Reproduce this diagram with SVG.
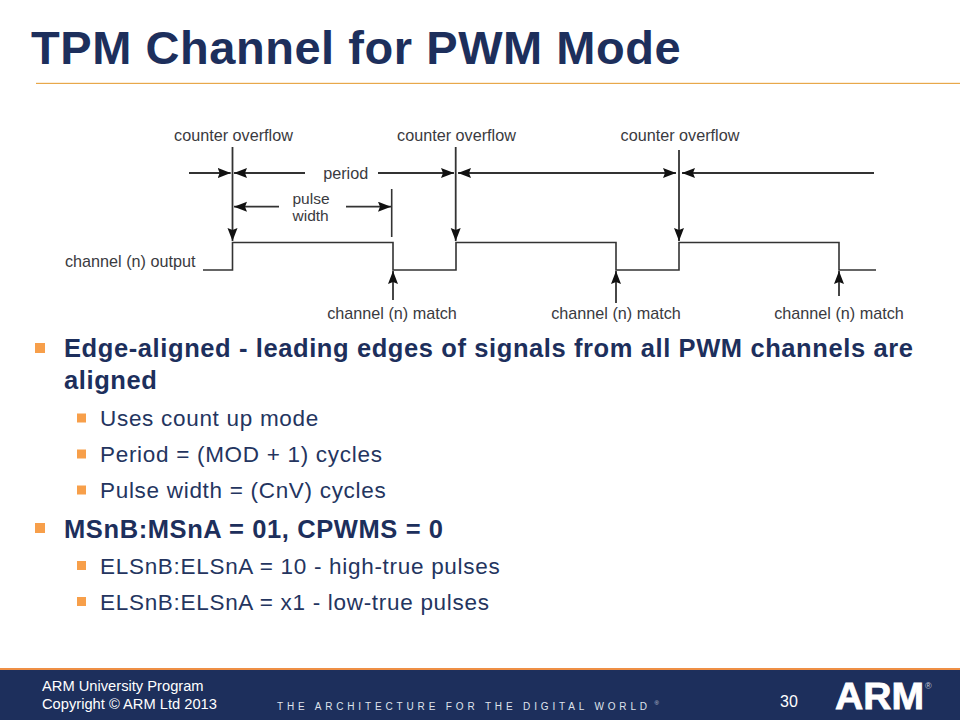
<svg xmlns="http://www.w3.org/2000/svg" width="960" height="720" viewBox="0 0 960 720">
<style>
text{font-family:"Liberation Sans",Arial,sans-serif}
.t{font-size:16.2px;fill:#3a3a40}
.m{text-anchor:middle}
.w{fill:none;stroke:#333;stroke-width:1.6}
.a{fill:none;stroke:#333;stroke-width:1.8;marker-end:url(#h)}
.b1{font-size:25.500px;font-weight:bold;fill:#1d2f5c;letter-spacing:.6px}
.b2{font-size:22.500px;fill:#24355f;letter-spacing:.7px}
.s1{fill:#f79f4a}
.f{fill:#fff;font-size:14.700px}
</style>
<defs><marker id="h" markerUnits="userSpaceOnUse" markerWidth="14" markerHeight="12" refX="13" refY="5" orient="auto"><path d="M0 0 L13 5 L0 10 L2 5Z" fill="#111"/></marker></defs>
<rect width="960" height="720" fill="#fff"/>
<text x="31" y="63.500" font-size="47" font-weight="bold" fill="#1d2f5c" letter-spacing=".55">TPM Channel for PWM Mode</text>
<rect x="36" y="82.800" width="924" height="1.200" fill="#e8a84a"/>
<g id="connectors">
<path class="w" d="M203 270H232.500V242.500H393V270H456V242.500H616V270H679V242.500H839V270H876"/>
<path class="a" d="M232.500 147V241"/>
<path class="a" d="M455.700 147V241"/>
<path class="a" d="M679 150V241"/>
<path class="a" d="M189 173H230.700"/>
<path class="a" d="M305 173H234"/>
<path class="a" d="M378 173H454"/>
<path class="a" d="M600 173H458"/>
<path class="a" d="M600 173H676"/>
<path class="a" d="M874 173H682"/>
<path class="a" d="M279 206.700H234"/>
<path class="a" d="M346 206.700H391"/>
<path class="w" d="M391.700 189V237"/>
<path class="a" d="M393 300V271"/>
<path class="a" d="M616 303V271"/>
<path class="a" d="M839 296V271"/>
</g>
<g id="counter-overflow-1"><text class="t m" x="233.500" y="140.500">counter overflow</text></g>
<g id="counter-overflow-2"><text class="t m" x="456.500" y="140.500">counter overflow</text></g>
<g id="counter-overflow-3"><text class="t m" x="680" y="140.500">counter overflow</text></g>
<g id="period"><text class="t m" x="345.700" y="179">period</text></g>
<g id="pulse-width"><text x="292.500" y="204" font-size="15.500" fill="#3a3a40">pulse</text><text x="292.500" y="220.500" font-size="15.500" fill="#3a3a40">width</text></g>
<g id="channel-output"><text class="t" x="65" y="267">channel (n) output</text></g>
<g id="match-1"><text class="t m" x="392" y="319">channel (n) match</text></g>
<g id="match-2"><text class="t m" x="616" y="319">channel (n) match</text></g>
<g id="match-3"><text class="t m" x="839" y="319">channel (n) match</text></g>
<g id="bullets">
<rect class="s1" x="35" y="343" width="10" height="10"/>
<text class="b1" x="64" y="356.500">Edge-aligned - leading edges of signals from all PWM channels are</text>
<text class="b1" x="64" y="388.500">aligned</text>
<rect class="s1" x="77" y="413.500" width="9" height="9"/>
<text class="b2" x="100" y="425.500">Uses count up mode</text>
<rect class="s1" x="77" y="449.500" width="9" height="9"/>
<text class="b2" x="100" y="461.500">Period = (MOD + 1) cycles</text>
<rect class="s1" x="77" y="485.500" width="9" height="9"/>
<text class="b2" x="100" y="497.500">Pulse width = (CnV) cycles</text>
<rect class="s1" x="35" y="523" width="10" height="10"/>
<text class="b1" x="64" y="537.500">MSnB:MSnA = 01, CPWMS = 0</text>
<rect class="s1" x="77" y="561" width="9" height="9"/>
<text class="b2" x="100" y="573.500">ELSnB:ELSnA = 10 - high-true pulses</text>
<rect class="s1" x="77" y="597" width="9" height="9"/>
<text class="b2" x="100" y="609.500">ELSnB:ELSnA = x1 - low-true pulses</text>
</g>
<g id="footer">
<rect y="668" width="960" height="52" fill="#1d2f5c"/>
<rect y="668" width="960" height="2" fill="#ee8f45"/>
<text class="f" x="42" y="691">ARM University Program</text>
<text class="f" x="42" y="708.500">Copyright © ARM Ltd 2013</text>
<text x="277" y="709.500" font-size="10" fill="#dfe3ec" letter-spacing="3.850">THE ARCHITECTURE FOR THE DIGITAL WORLD</text>
<text x="654.500" y="705" font-size="6" fill="#c4cbdb">®</text>
<text x="780" y="706.500" font-size="16" fill="#fff">30</text>
<text x="835" y="709" font-size="36" font-weight="bold" fill="#fff" stroke="#fff" stroke-width=".8" textLength="89" lengthAdjust="spacingAndGlyphs">ARM</text>
<text x="925" y="689" font-size="9" fill="#c4cbdb">®</text>
</g>
</svg>
